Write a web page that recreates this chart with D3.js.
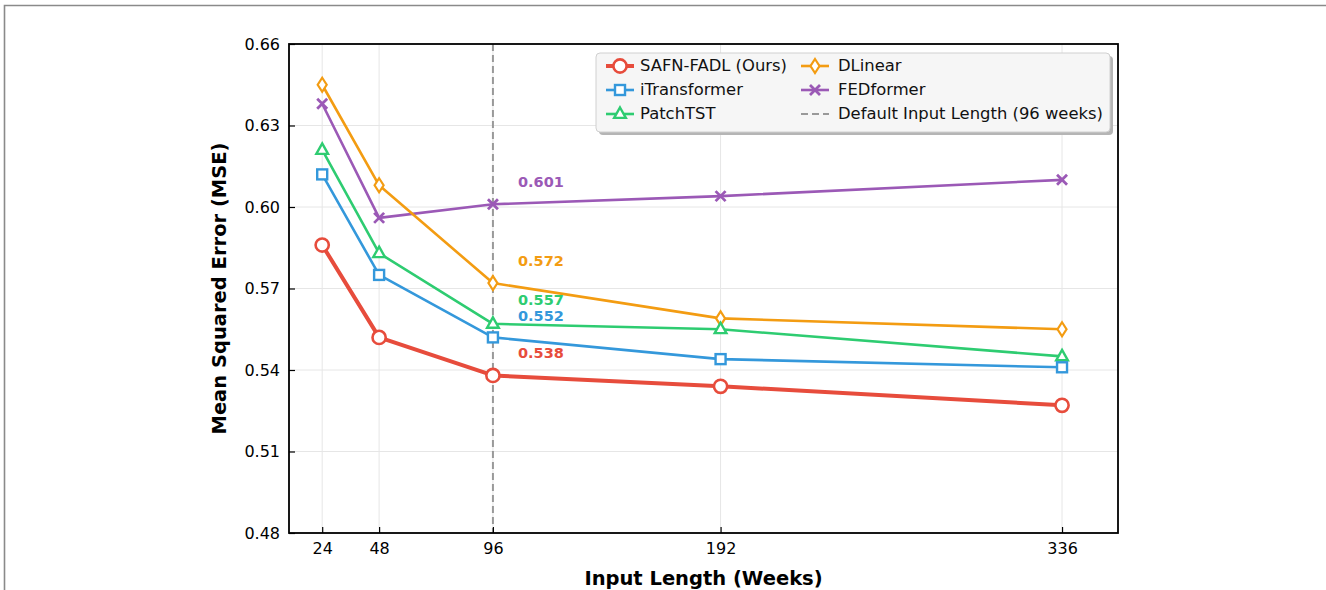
<!DOCTYPE html>
<html>
<head>
<meta charset="utf-8">
<script src="https://cdn.jsdelivr.net/npm/d3@7"></script>
<style>
  html, body { margin: 0; padding: 0; background: #fff; }
  svg { display: block; font-family: "DejaVu Sans", sans-serif; }
</style>
</head>
<body>
<svg id="chart" width="1326" height="590"></svg>
<script>
const inputLengths = [24, 48, 96, 192, 336];
const seriesNames = ["SAFN-FADL (Ours)", "iTransformer", "PatchTST", "DLinear", "FEDformer"];
const safnValues = [0.586, 0.552, 0.538, 0.534, 0.527];
const itransformerValues = [0.612, 0.575, 0.552, 0.544, 0.541];
const patchtstValues = [0.621, 0.583, 0.557, 0.555, 0.545];
const dlinearValues = [0.645, 0.608, 0.572, 0.559, 0.555];
const fedformerValues = [0.638, 0.596, 0.601, 0.604, 0.610];
const yTicks = [0.48, 0.51, 0.54, 0.57, 0.60, 0.63, 0.66];
const defaultLength = 96;
const legendLabelDefault = "Default Input Length (96 weeks)";

const seriesValues = [safnValues, itransformerValues, patchtstValues, dlinearValues, fedformerValues];
const colors = ["#e74c3c", "#3498db", "#2ecc71", "#f39c12", "#9b59b6"];
const markers = ["circle", "square", "triangle", "diamond", "x"];
const widths = [4, 2.6, 2.6, 2.6, 2.6];

const svg = d3.select("#chart");

// outer frame
svg.append("path").attr("d", "M4.5,590 L4.5,5.5 L1326,5.5")
  .attr("fill", "none").attr("stroke", "#8a8a8a").attr("stroke-width", 1.6);

const L = 289, R = 1118, T = 44, B = 533;
const x = d3.scaleLinear().domain([10, 359.6]).range([L, R]);
const y = d3.scaleLinear().domain([0.48, 0.66]).range([B, T]);

// grid
const g = svg.append("g");
g.selectAll(".gy").data(yTicks).join("line")
  .attr("x1", L).attr("x2", R).attr("y1", d => y(d)).attr("y2", d => y(d))
  .attr("stroke", "#e6e6e6").attr("stroke-width", 1);
g.selectAll(".gx").data(inputLengths).join("line")
  .attr("y1", T).attr("y2", B).attr("x1", d => x(d)).attr("x2", d => x(d))
  .attr("stroke", "#e6e6e6").attr("stroke-width", 1);

// default input length line
svg.append("line").attr("x1", x(defaultLength)).attr("x2", x(defaultLength))
  .attr("y1", T).attr("y2", B)
  .attr("stroke", "#999").attr("stroke-width", 2).attr("stroke-dasharray", "7,4");

// axes
const yAxis = d3.axisLeft(y).tickValues(yTicks).tickFormat(d3.format(".2f")).tickSizeInner(-6).tickSizeOuter(0).tickPadding(9);
const xAxis = d3.axisBottom(x).tickValues(inputLengths).tickFormat(d3.format("d")).tickSizeInner(-6).tickSizeOuter(0).tickPadding(10);
const ya = svg.append("g").attr("transform", `translate(${L},0)`).call(yAxis);
const xa = svg.append("g").attr("transform", `translate(0,${B})`).call(xAxis);
[ya, xa].forEach(a => {
  a.select(".domain").remove();
  a.selectAll(".tick line").attr("stroke", "#000").attr("stroke-width", 1.2);
  a.selectAll(".tick text").attr("fill", "#000").style("font-size", "16px").style("font-family", "DejaVu Sans");
});

// spines
svg.append("rect").attr("x", L).attr("y", T).attr("width", R - L).attr("height", B - T)
  .attr("fill", "none").attr("stroke", "#000").attr("stroke-width", 1.8);

// marker drawer
function drawMarker(sel, type, color, cx, cy, scale) {
  const s = scale || 1;
  if (type === "circle") {
    sel.append("circle").attr("cx", cx).attr("cy", cy).attr("r", 6 * s)
      .attr("fill", "#fff").attr("stroke", color).attr("stroke-width", 2.6);
  } else if (type === "square") {
    sel.append("rect").attr("x", cx - 5 * s).attr("y", cy - 5 * s).attr("width", 10 * s).attr("height", 10 * s)
      .attr("fill", "#fff").attr("stroke", color).attr("stroke-width", 2.4);
  } else if (type === "triangle") {
    const r = 6.5 * s;
    sel.append("path").attr("d", `M${cx},${cy - r} L${cx + r * 0.9},${cy + r * 0.6} L${cx - r * 0.9},${cy + r * 0.6} Z`)
      .attr("fill", "#fff").attr("stroke", color).attr("stroke-width", 2.4);
  } else if (type === "diamond") {
    const w = 4.5 * s, h = 7 * s;
    sel.append("path").attr("d", `M${cx},${cy - h} L${cx + w},${cy} L${cx},${cy + h} L${cx - w},${cy} Z`)
      .attr("fill", "#fff").attr("stroke", color).attr("stroke-width", 2.2);
  } else if (type === "x") {
    const r = 5 * s;
    sel.append("path").attr("d", `M${cx - r},${cy - r} L${cx + r},${cy + r} M${cx - r},${cy + r} L${cx + r},${cy - r}`)
      .attr("fill", "none").attr("stroke", color).attr("stroke-width", 2.8);
  }
}

// series (draw in reverse so ours on top)
const line = d3.line().x((d, i) => x(inputLengths[i])).y(d => y(d));
const order = [4, 3, 2, 1, 0];
order.forEach(k => {
  const sg = svg.append("g");
  sg.append("path").datum(seriesValues[k]).attr("d", line)
    .attr("fill", "none").attr("stroke", colors[k]).attr("stroke-width", widths[k])
    .attr("stroke-linejoin", "round");
  seriesValues[k].forEach((v, i) => drawMarker(sg, markers[k], colors[k], x(inputLengths[i]), y(v), k === 0 ? 1.1 : 1));
});

// annotations at default length
const idx = inputLengths.indexOf(defaultLength);
const annShift = [-21, -20, -22.5, -21, -21];
seriesValues.forEach((vals, k) => {
  const v = vals[idx];
  svg.append("text").attr("x", x(defaultLength) + 48).attr("y", y(v) + annShift[k])
    .attr("text-anchor", "middle").attr("dominant-baseline", "middle")
    .attr("fill", colors[k]).style("font-weight", "bold").style("font-size", "14.5px")
    .text(d3.format(".3f")(v));
});

// axis labels
svg.append("text").attr("x", (L + R) / 2).attr("y", 579).attr("text-anchor", "middle")
  .attr("dominant-baseline", "middle")
  .style("font-weight", "bold").style("font-size", "19.5px").text("Input Length (Weeks)");
svg.append("text").attr("transform", `translate(220,${(T + B) / 2}) rotate(-90)`)
  .attr("text-anchor", "middle").attr("dominant-baseline", "middle")
  .style("font-weight", "bold").style("font-size", "19.5px").text("Mean Squared Error (MSE)");

// legend
const lg = svg.append("g");
const lx = 596, ly = 53, lw = 514, lh = 79;
lg.append("rect").attr("x", lx + 3).attr("y", ly + 3).attr("width", lw).attr("height", lh).attr("rx", 4)
  .attr("fill", "#b5b5b5");
lg.append("rect").attr("x", lx).attr("y", ly).attr("width", lw).attr("height", lh).attr("rx", 4)
  .attr("fill", "#f6f6f6").attr("stroke", "#d0d0d0").attr("stroke-width", 1);
const legendItems = seriesNames.map((n, k) => ({ name: n, color: colors[k], marker: markers[k], w: widths[k] }));
legendItems.push({ name: legendLabelDefault, color: "#999", marker: null, w: 2, dash: "7,4" });
const colPos = [[0, 0], [0, 1], [0, 2], [1, 0], [1, 1], [1, 2]];
legendItems.forEach((it, i) => {
  const [c, r] = colPos[i];
  const mx = c === 0 ? 620 : 815;
  const tx = c === 0 ? 640 : 838;
  const yy = 66 + r * 24;
  lg.append("line").attr("x1", mx - 14).attr("x2", mx + 14).attr("y1", yy).attr("y2", yy)
    .attr("stroke", it.color).attr("stroke-width", it.w).attr("stroke-dasharray", it.dash || null);
  if (it.marker) drawMarker(lg, it.marker, it.color, mx, yy, it.marker === "circle" ? 1.1 : 1);
  lg.append("text").attr("x", tx).attr("y", yy).attr("dominant-baseline", "middle")
    .style("font-size", "16.4px").attr("fill", "#111").text(it.name);
});
</script>
</body>
</html>
